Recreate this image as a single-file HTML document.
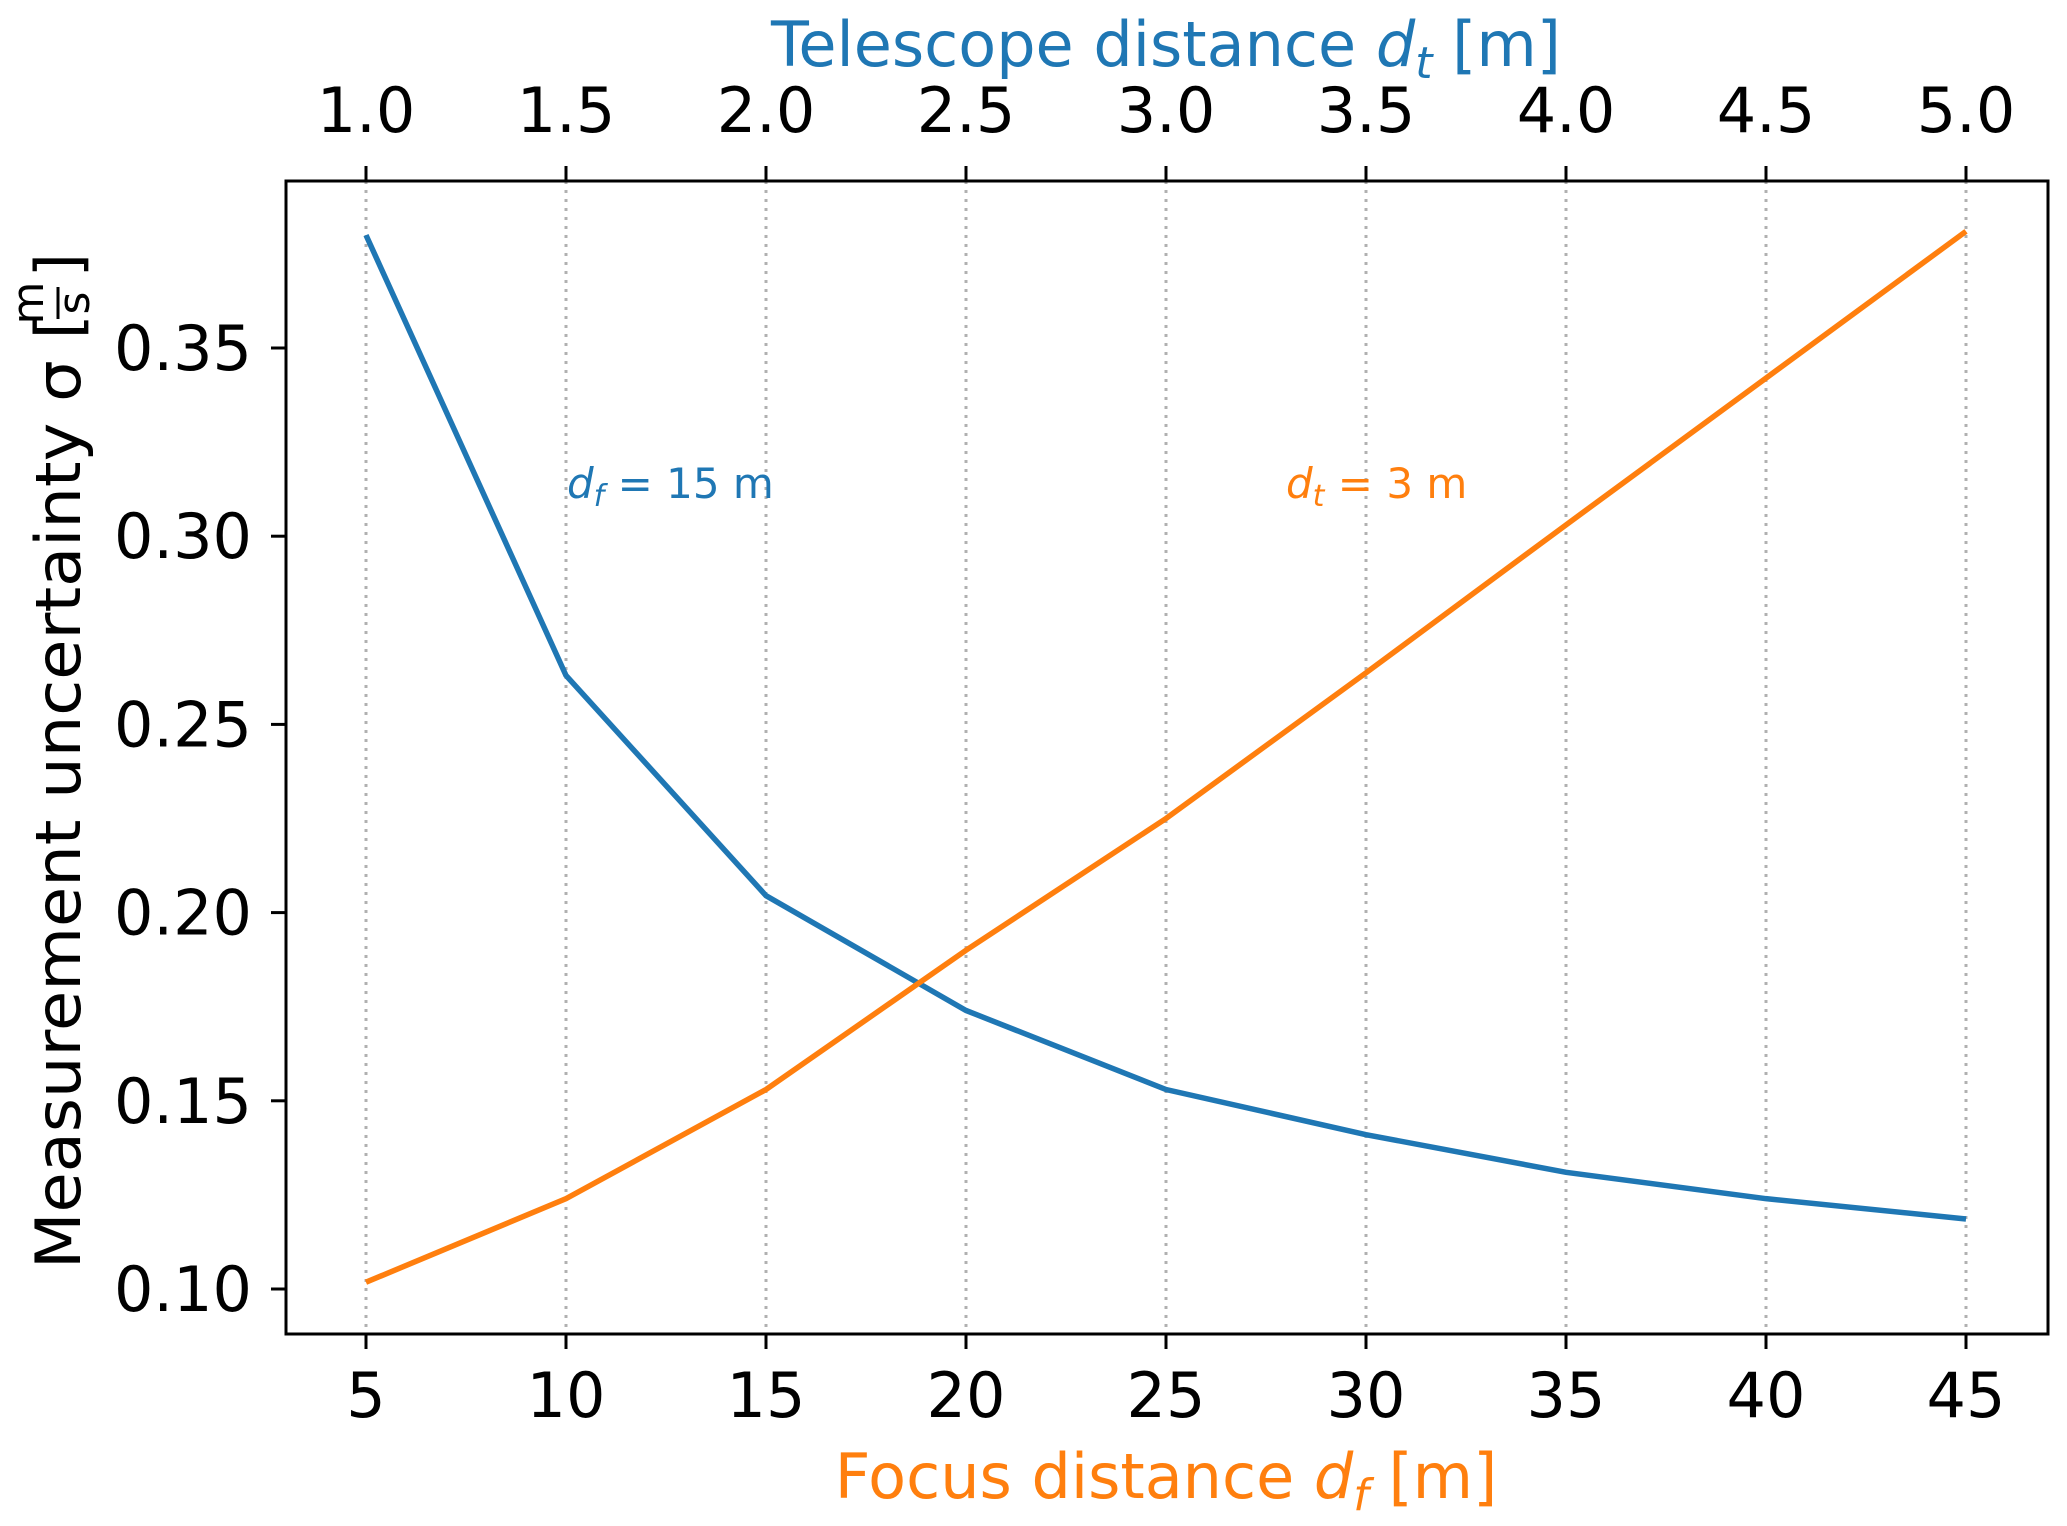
<!DOCTYPE html>
<html><head><meta charset="utf-8"><style>
html,body{margin:0;padding:0;background:#fff;}
svg{display:block;font-family:"DejaVu Sans","Liberation Sans",sans-serif;}
</style></head><body>
<svg id="chart" width="2067" height="1526" viewBox="0 0 2067 1526" xmlns="http://www.w3.org/2000/svg">
<rect width="2067" height="1526" fill="#fff"/>
<g id="grid"></g>
<g id="series"></g>
<rect x="286" y="181" width="1762" height="1153" fill="none" stroke="#000" stroke-width="3"/>
<g id="axes"></g>
<text x="1166" y="66" text-anchor="middle" font-size="62" fill="#1f77b4">Telescope distance <tspan font-style="italic">d</tspan><tspan font-style="italic" font-size="44" dy="12">t</tspan><tspan dy="-12"> [m]</tspan></text>
<text x="1166" y="1498" text-anchor="middle" font-size="62" fill="#ff7f0e">Focus distance <tspan font-style="italic">d</tspan><tspan font-style="italic" font-size="44" dy="12">f</tspan><tspan dy="-12"> [m]</tspan></text>
<g transform="translate(80,1269) rotate(-90)">
<text x="0" y="0" font-size="62" fill="#000" textLength="955" lengthAdjust="spacingAndGlyphs">Measurement uncertainty σ [</text>
<text x="966" y="-37" font-size="44" text-anchor="middle">m</text>
<line x1="950" y1="-22" x2="982" y2="-22" stroke="#000" stroke-width="3"/>
<text x="966" y="9" font-size="44" text-anchor="middle">s</text>
<text x="1016" y="0" font-size="62" text-anchor="end">]</text>
</g>
<text x="567" y="498" font-size="42" fill="#1f77b4"><tspan font-style="italic">d</tspan><tspan font-style="italic" font-size="30" dy="8">f</tspan><tspan dy="-8"> = 15 m</tspan></text>
<text x="1286" y="498" font-size="42" fill="#ff7f0e"><tspan font-style="italic">d</tspan><tspan font-style="italic" font-size="30" dy="8">t</tspan><tspan dy="-8"> = 3 m</tspan></text>
<script>
const focusDist = [5,10,15,20,25,30,35,40,45];
const blueValues = [0.380,0.263,0.2045,0.174,0.153,0.141,0.131,0.124,0.1186];
const orangeValues = [0.1018,0.124,0.153,0.190,0.225,0.2637,0.303,0.342,0.381];
const xTicks = [5,10,15,20,25,30,35,40,45];
const topTicks = ['1.0','1.5','2.0','2.5','3.0','3.5','4.0','4.5','5.0'];
const yTicks = [0.10,0.15,0.20,0.25,0.30,0.35];
const NS='http://www.w3.org/2000/svg';
function sx(v){return 366+(v-5)*40;}
function sy(v){return 1289-(v-0.10)*3764;}
function mk(t,a,p){const e=document.createElementNS(NS,t);for(const k in a)e.setAttribute(k,a[k]);p.appendChild(e);return e;}
const grid=document.getElementById('grid'),axes=document.getElementById('axes'),series=document.getElementById('series');
xTicks.forEach((v,i)=>{
 const x=sx(v);
 const g=mk('line',{x1:x,y1:181,x2:x,y2:1334,stroke:'#b0b0b0','stroke-width':3,'stroke-dasharray':'3 6'},grid);
 
 
 const t1=mk('line',{x1:x,y1:1334,x2:x,y2:1349,stroke:'#000','stroke-width':3},axes);
 
 
 const l1=mk('text',{x:x,y:1417,'text-anchor':'middle','font-size':62},axes);l1.textContent=String(v);
 
 
 const t2=mk('line',{x1:x,y1:181,x2:x,y2:166,stroke:'#000','stroke-width':3},axes);
 
 
 const l2=mk('text',{x:x,y:132,'text-anchor':'middle','font-size':62},axes);l2.textContent=topTicks[i];
 
 
});
yTicks.forEach(v=>{
 const y=sy(v);
 const t=mk('line',{x1:271,y1:y,x2:286,y2:y,stroke:'#000','stroke-width':3},axes);
 
 
 const l=mk('text',{x:252,y:y+22,'text-anchor':'end','font-size':62},axes);l.textContent=v.toFixed(2);
 
 
});
function line(vals,color,name){
 const p=mk('polyline',{points:vals.map((v,i)=>sx(focusDist[i])+','+sy(v)).join(' '),fill:'none',stroke:color,'stroke-width':5.5},series);
 
 
}
line(blueValues,'#1f77b4','line-df-15m');
line(orangeValues,'#ff7f0e','line-dt-3m');
</script>
</svg>
</body></html>
